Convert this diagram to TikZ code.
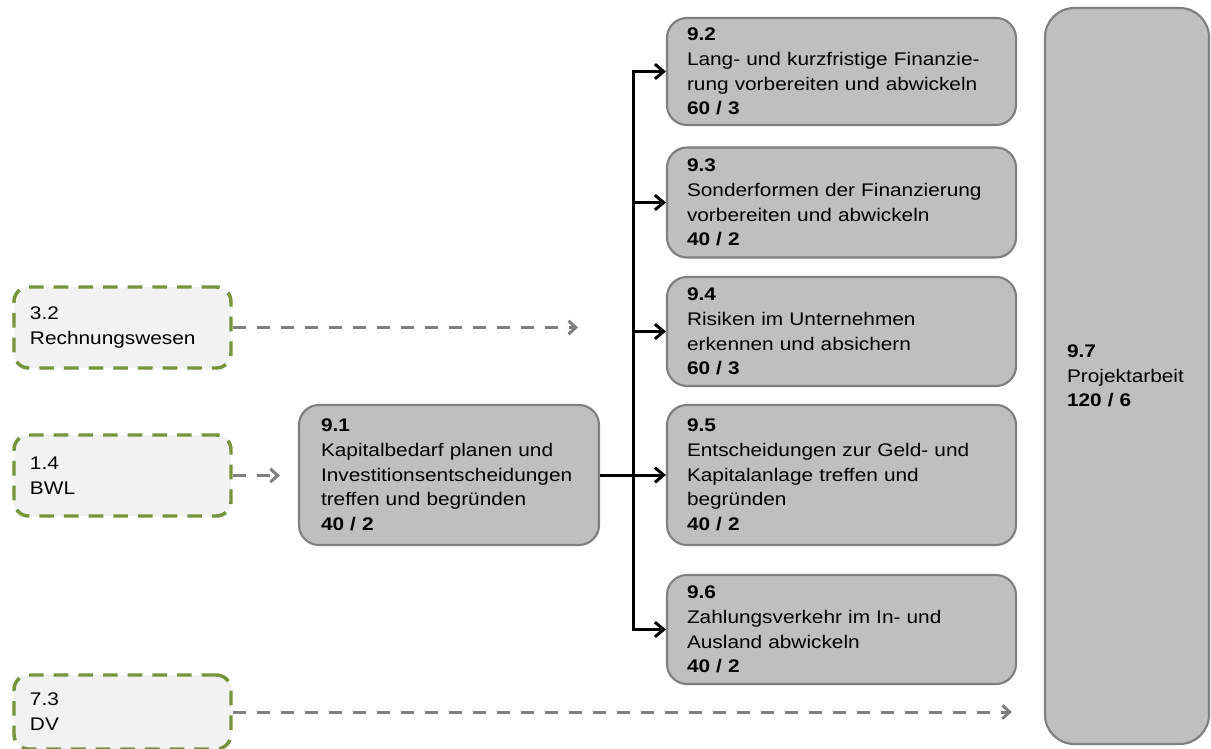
\documentclass[tikz,border=0pt]{standalone}
\usepackage{fontspec}
\setmainfont[FakeStretch=1.14]{Liberation Sans}
\usetikzlibrary{arrows.meta}
\hyphenpenalty=10000
\exhyphenpenalty=10000
\definecolor{boxfill}{HTML}{BFBFBF}
\definecolor{boxline}{HTML}{7F7F7F}
\definecolor{extfill}{HTML}{F2F2F2}
\definecolor{extline}{HTML}{77933C}
\definecolor{linkgray}{HTML}{808080}

\begin{document}
\begin{tikzpicture}[x=0.75pt,y=-0.75pt,
  every node/.style={font=\fontsize{13.7}{18.6}\selectfont, align=left, inner ysep=0pt},
  module/.style={draw=boxline, fill=boxfill, line width=1.6pt, rounded corners=15pt,
    inner xsep=15pt, text width=231.75pt, minimum width=261.75pt},
  mainmod/.style={draw=boxline, fill=boxfill, line width=1.6pt, rounded corners=15pt,
    inner xsep=16.5pt, text width=192pt, minimum width=225pt, minimum height=105pt},
  projmod/.style={draw=boxline, fill=boxfill, line width=1.6pt, rounded corners=22pt,
    inner xsep=16.5pt, text width=90pt, minimum width=123pt, minimum height=552pt},
  extmod/.style={draw=extline, fill=extfill, line width=2.6pt, rounded corners=11pt,
    dash pattern=on 11pt off 7.5pt, inner xsep=12pt, text width=138.75pt,
    minimum width=162.75pt},
  extlink/.style={draw=linkgray, line width=2.25pt, dash pattern=on 10pt off 8pt,
    -{Straight Barb[length=5.5pt,width=10pt]}},
  flow/.style={draw=black, line width=2.25pt, line join=miter,
    -{Straight Barb[length=6.5pt,width=11pt]}}
]
\useasboundingbox (0,0) rectangle (1211,749);
\fill[white] (0,0) rectangle (1211,749);

% modules from other subjects
\node[extmod, minimum height=60.75pt] (n32) at (122.5,327.5) {3.2\\Rechnungswesen};
\node[extmod, minimum height=60.75pt] (n14) at (122.5,475.5) {1.4\\BWL};
\node[extmod, minimum height=55.5pt] (n73) at (122.5,712) {7.3\\DV};

% entry module
\node[mainmod] (n91) at (449,475) {\textbf{9.1}\\Kapitalbedarf planen und\\Investitionsentscheidungen\\treffen und begründen\\\textbf{40 / 2}};

% follow-up modules
\node[module, minimum height=80.25pt] (n92) at (841.5,71.5) {\textbf{9.2}\\Lang- und kurzfristige Finanzie-\\rung vorbereiten und abwickeln\\\textbf{60 / 3}};
\node[module, minimum height=82.5pt] (n93) at (841.5,202.5) {\textbf{9.3}\\Sonderformen der Finanzierung\\vorbereiten und abwickeln\\\textbf{40 / 2}};
\node[module, minimum height=81.75pt] (n94) at (841.5,331.5) {\textbf{9.4}\\Risiken im Unternehmen\\erkennen und absichern\\\textbf{60 / 3}};
\node[module, minimum height=105pt] (n95) at (841.5,475) {\textbf{9.5}\\Entscheidungen zur Geld- und\\Kapitalanlage treffen und\\begründen\\\textbf{40 / 2}};
\node[module, minimum height=81.75pt] (n96) at (841.5,629.5) {\textbf{9.6}\\Zahlungsverkehr im In- und\\Ausland abwickeln\\\textbf{40 / 2}};

% project work
\node[projmod] (n97) at (1127,376) {\textbf{9.7}\\Projektarbeit\\\textbf{120 / 6}};

% dashed links from other subjects
\coordinate (e32) at (578,327.5);
\draw[extlink] (n32.east) -- (e32);
\draw[extlink, shorten >=13.5pt] (n14.east) -- (n14.east -| n91.west);
\draw[extlink, shorten >=24pt] (n73.east) -- (n73.east -| n97.west);

% distribution bus from 9.1
\coordinate (bus) at (633,475);
\draw[flow] (n91.east) -- (n95.west);
\draw[flow] (bus) |- (n92.west);
\draw[flow] (bus) |- (n93.west);
\draw[flow] (bus) |- (n94.west);
\draw[flow] (bus) |- (n96.west);
\end{tikzpicture}
\end{document}
